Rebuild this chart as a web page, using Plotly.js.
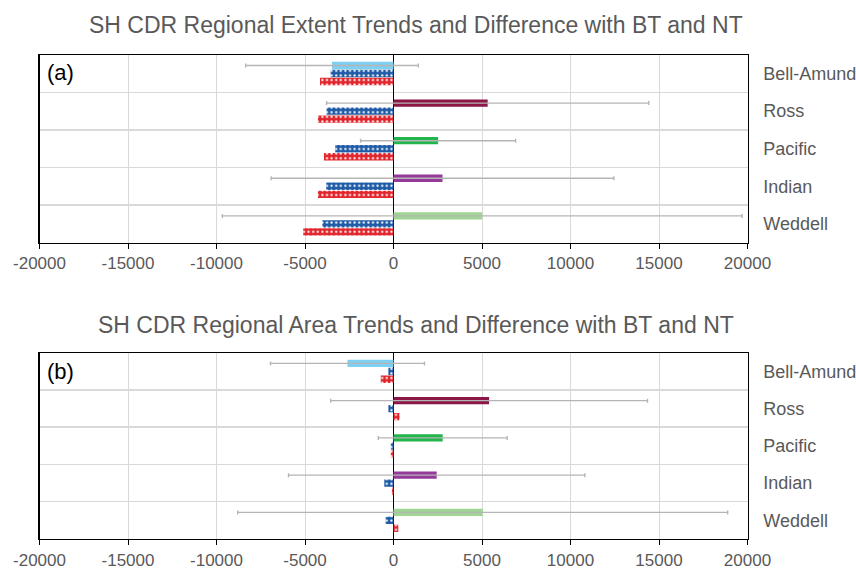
<!DOCTYPE html>
<html>
<head>
<meta charset="utf-8">
<script src="https://cdn.plot.ly/plotly-3.0.1.min.js"></script>
<style>
  html, body { margin: 0; padding: 0; background: #fff; }
  #chart { width: 856px; height: 569px; }
</style>
</head>
<body>
<div id="chart"></div>
<script>
// Regions (top to bottom)
const regions = ['Bell-Amund', 'Ross', 'Pacific', 'Indian', 'Weddell'];
const regionColors = ['#7DD0F1', '#8C1747', '#20B64B', '#95399A', '#9FD694'];

// (a) Extent trends: CDR trend with uncertainty, and differences with BT and NT
const extentCdr = [-3475, 5320, 2520, 2770, 5010];
const extentErr = [4880, 9100, 4380, 9680, 14680];
const extentDiffBT = [-3550, -3780, -3290, -3800, -4020];
const extentDiffNT = [-4150, -4270, -3930, -4270, -5100];

// (b) Area trends
const areaCdr = [-2600, 5400, 2780, 2440, 5040];
const areaErr = [4350, 8950, 3640, 8370, 13840];
const areaDiffBT = [-290, -290, -150, -520, -440];
const areaDiffNT = [-720, 340, -150, -90, 270];

const xTicks = [-20000, -15000, -10000, -5000, 0, 5000, 10000, 15000, 20000];

const textGray = '#595959';
const fontFam = 'Arial, "Liberation Sans", sans-serif';
const blue = '#1F5BA6';
const red = '#E1252C';

function dotted(color) {
  return { color: color, line: { width: 0 },
    pattern: { shape: '.', fgcolor: '#ffffff', bgcolor: color, size: 4.6, solidity: 0.18 } };
}

function panelTraces(cdr, err, dBT, dNT, xa, ya) {
  return [
    {
      type: 'bar', orientation: 'h', y: regions, x: cdr, xaxis: xa, yaxis: ya,
      marker: { color: regionColors, line: { width: 0 } },
      error_x: { type: 'data', array: err, symmetric: true, color: '#B5B5B5', thickness: 1.4, width: 2 },
      showlegend: false, hoverinfo: 'x+y'
    },
    {
      type: 'bar', orientation: 'h', y: regions, x: dBT, xaxis: xa, yaxis: ya,
      marker: dotted(blue), showlegend: false, hoverinfo: 'x+y'
    },
    {
      type: 'bar', orientation: 'h', y: regions, x: dNT, xaxis: xa, yaxis: ya,
      marker: dotted(red), showlegend: false, hoverinfo: 'x+y'
    }
  ];
}

const data = [
  ...panelTraces(extentCdr, extentErr, extentDiffBT, extentDiffNT, 'x', 'y'),
  ...panelTraces(areaCdr, areaErr, areaDiffBT, areaDiffNT, 'x2', 'y2')
];

const xDomain = [39.5 / 856, 747.5 / 856];

function xAxis(anchor, domain) {
  return {
    domain: domain, anchor: anchor, range: [-20000, 20000],
    tickvals: xTicks, ticktext: xTicks.map(String),
    showgrid: true, gridcolor: '#D9D9D9', gridwidth: 1,
    zeroline: true, zerolinecolor: '#000000', zerolinewidth: 1.5,
    showline: true, linecolor: '#000000', linewidth: 1.2, mirror: true,
    ticks: 'outside', ticklen: 5, tickcolor: '#000000', tickwidth: 1,
    tickfont: { family: fontFam, size: 17, color: textGray },
    fixedrange: true
  };
}

function yAxis(anchor, domain) {
  return {
    domain: domain, anchor: anchor, type: 'category',
    categoryorder: 'array', categoryarray: regions, autorange: 'reversed',
    side: 'right', tickson: 'boundaries', ticks: '', ticklabelstandoff: 11,
    showgrid: true, gridcolor: '#D9D9D9', gridwidth: 1.5,
    showline: true, linecolor: '#000000', linewidth: 1.2, mirror: true,
    tickfont: { family: fontFam, size: 18, color: textGray },
    fixedrange: true
  };
}

const H = 569;
const layout = {
  width: 856, height: 569,
  margin: { l: 0, r: 0, t: 0, b: 0 },
  paper_bgcolor: '#ffffff', plot_bgcolor: '#ffffff',
  barmode: 'group', bargap: 0.36, bargroupgap: 0.08,
  xaxis: xAxis('y', xDomain),
  yaxis: yAxis('x', [(H - 242.7) / H, (H - 54.7) / H]),
  xaxis2: xAxis('y2', xDomain),
  yaxis2: yAxis('x2', [(H - 539) / H, (H - 352.7) / H]),
  annotations: [
    { text: 'SH CDR Regional Extent Trends and Difference with BT and NT',
      xref: 'paper', yref: 'paper', x: 416 / 856, y: (H - 25) / H,
      showarrow: false, xanchor: 'center', yanchor: 'middle',
      font: { family: fontFam, size: 23, color: textGray } },
    { text: 'SH CDR Regional Area Trends and Difference with BT and NT',
      xref: 'paper', yref: 'paper', x: 416 / 856, y: (H - 325) / H,
      showarrow: false, xanchor: 'center', yanchor: 'middle',
      font: { family: fontFam, size: 23, color: textGray } },
    { text: '(a)', xref: 'paper', yref: 'paper', x: 45 / 856, y: (H - 73) / H,
      showarrow: false, xanchor: 'left', yanchor: 'middle',
      font: { family: fontFam, size: 22, color: '#000000' } },
    { text: '(b)', xref: 'paper', yref: 'paper', x: 45 / 856, y: (H - 372) / H,
      showarrow: false, xanchor: 'left', yanchor: 'middle',
      font: { family: fontFam, size: 22, color: '#000000' } }
  ]
};

Plotly.newPlot('chart', data, layout, { displayModeBar: false, staticPlot: true });
</script>
</body>
</html>
